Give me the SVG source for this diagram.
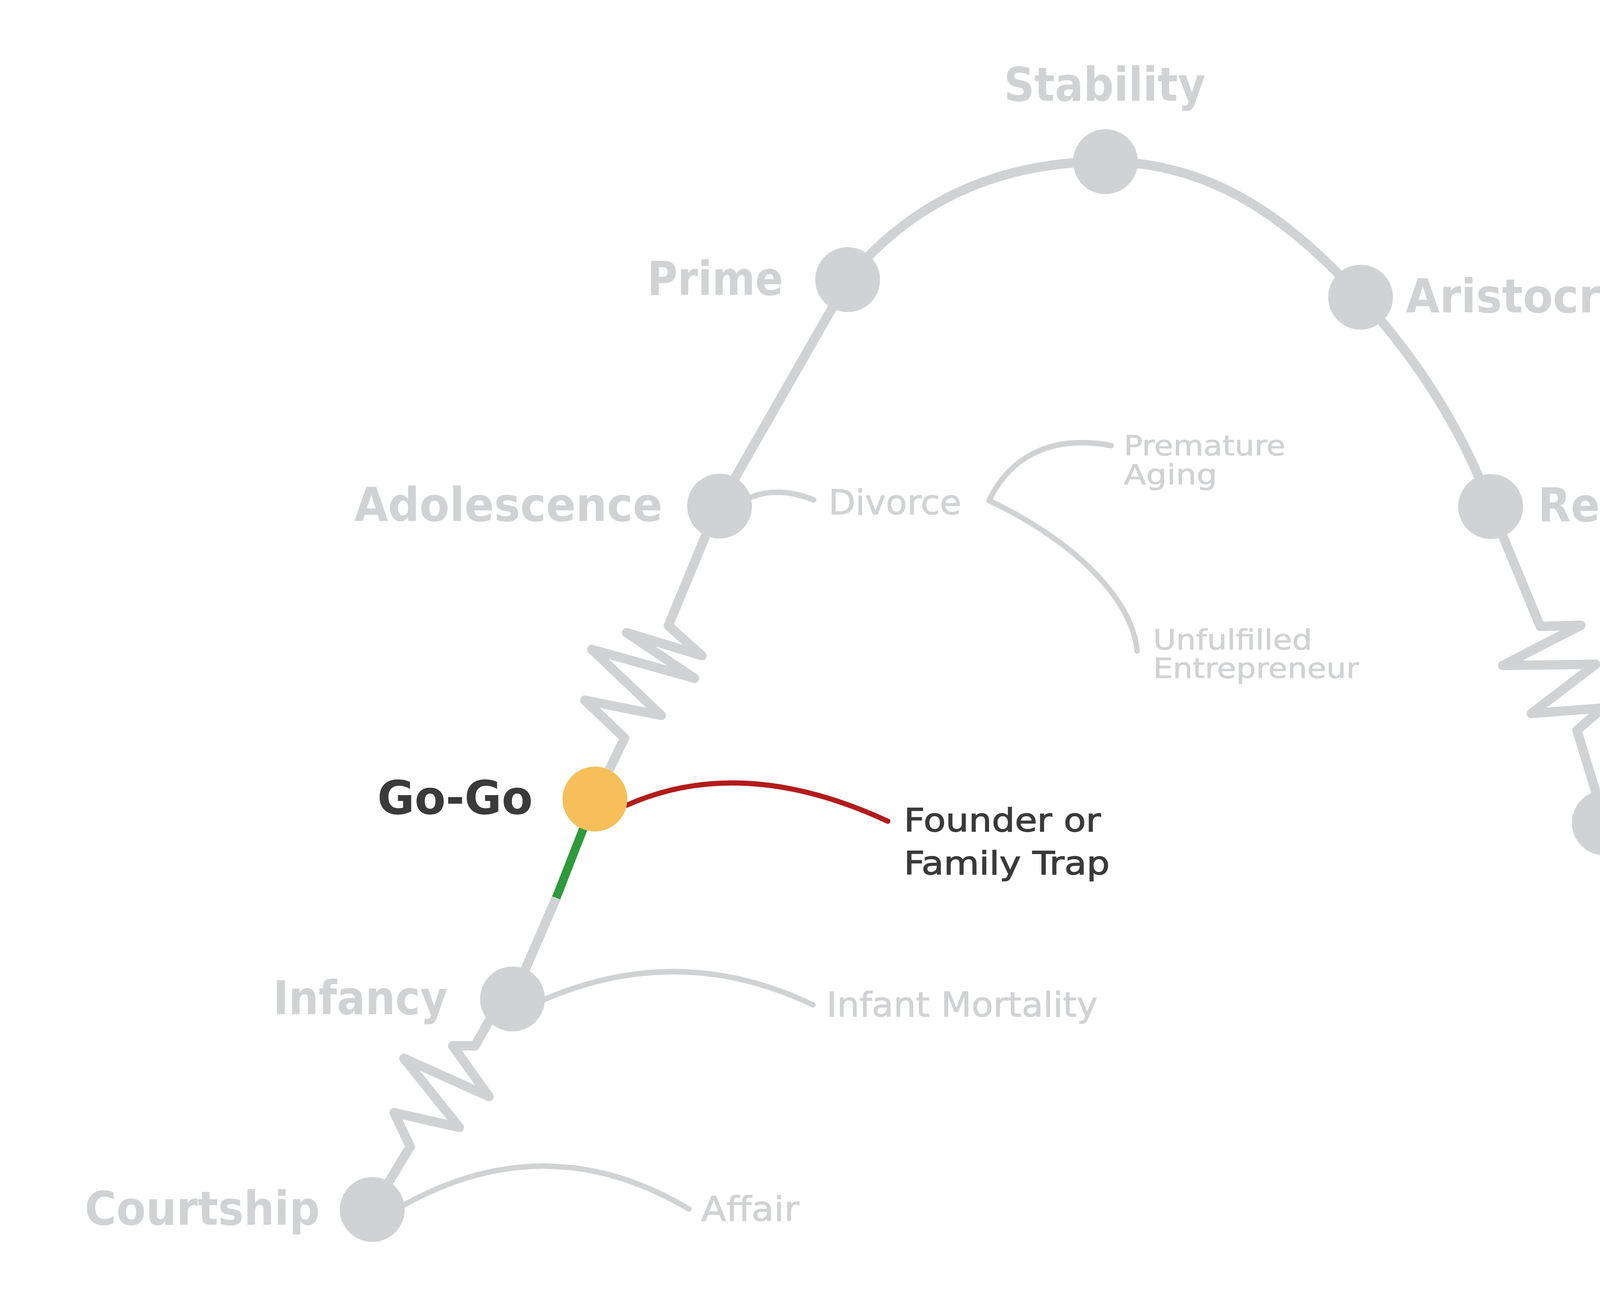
<svg xmlns="http://www.w3.org/2000/svg" width="5334" height="3334" viewBox="0 0 5334 3334">
<style>
.bg{fill:#ffffff}
.main{fill:none;stroke:#D1D2D4;stroke-width:24;stroke-linejoin:round;stroke-linecap:round}
.sub{fill:none;stroke:#D1D2D4;stroke-width:14;stroke-linecap:round;stroke-linejoin:round}
.green{fill:none;stroke:#2E9A3A;stroke-width:22;stroke-linecap:butt}
.red{fill:none;stroke:#B31B1B;stroke-width:13;stroke-linecap:round}
.node{fill:#D1D2D4}
.node-hi{fill:#F6BF5A}
.lbl{font-family:"DejaVu Sans","Liberation Sans",sans-serif;font-weight:bold;font-size:120px;fill:#D1D2D4}
.lbl-hi{font-family:"DejaVu Sans","Liberation Sans",sans-serif;font-weight:bold;font-size:120px;fill:#3A3A3A}
.sl{font-family:"DejaVu Sans","Liberation Sans",sans-serif;font-size:88px;fill:#D1D2D4;stroke:#D1D2D4;stroke-width:1.5}
.ss{font-family:"DejaVu Sans","Liberation Sans",sans-serif;font-size:72px;fill:#D1D2D4;stroke:#D1D2D4;stroke-width:1.2}
.sd{font-family:"DejaVu Sans","Liberation Sans",sans-serif;font-size:82px;fill:#3A3A3A;stroke:#3A3A3A;stroke-width:1.8}
</style>
<rect class="bg" x="0" y="0" width="5334" height="3334"/>
<g id="connectors">
  <path class="main" d="M953,3097 L1050,2936 L1009,2849 L1176,2887 L1034,2710 L1252,2808 L1159,2678 L1216,2678 L1252,2614 L1312,2558"/>
  <path class="main" d="M1312,2558 L1424,2299"/>
  <path class="green" d="M1424,2299 L1523,2046"/>
  <path class="main" d="M1523,2046 L1599,1890 L1497,1793 L1693,1832 L1515,1663 L1778,1737 L1604,1620 L1797,1679 L1711,1602 L1807,1370 L1842,1296"/>
  <path class="main" d="M1838,1300 L2172,716"/>
  <path class="main" d="M2170,716 C2330,520 2550,414 2830,414 C3100,414 3300,560 3483,761"/>
  <path class="main" d="M3483,761 Q3710,1010 3816,1297"/>
  <path class="main" d="M3816,1297 L3943,1604 L4047,1601 L3847,1704 L4085,1701 L3920,1827 L4103,1813 L4037,1870 L4085,2027 L4107,2107"/>
  <path class="main" d="M4107,2107 C4200,2450 4400,2930 4636,3092"/>
  <path class="sub" d="M1030,3088 Q1400,2880 1764,3096"/>
  <path class="sub" d="M1392,2560 Q1740,2410 2081,2573"/>
  <path class="sub" d="M1923,1273 Q1995,1245 2083,1280"/>
  <path class="sub" d="M2845,1141 C2680,1110 2580,1180 2532,1282 C2760,1390 2900,1540 2911,1667"/>
  <path class="red" d="M1604,2062 Q1900,1930 2273,2103"/>
</g>
<g id="node-courtship">
  <circle class="node" cx="953" cy="3097" r="83"/>
  <text class="lbl" x="217" y="3136" textLength="602" lengthAdjust="spacingAndGlyphs">Courtship</text>
</g>
<g id="node-affair">
  <text class="sl" x="1795" y="3126" textLength="251" lengthAdjust="spacingAndGlyphs">Affair</text>
</g>
<g id="node-infancy">
  <circle class="node" cx="1312" cy="2558" r="83"/>
  <text class="lbl" x="699" y="2597" textLength="447" lengthAdjust="spacingAndGlyphs">Infancy</text>
</g>
<g id="node-infant-mortality">
  <text class="sl" x="2116" y="2603" textLength="694" lengthAdjust="spacingAndGlyphs">Infant Mortality</text>
</g>
<g id="node-gogo">
  <circle class="node-hi" cx="1523" cy="2046" r="83"/>
  <text class="lbl-hi" x="966" y="2084" textLength="398" lengthAdjust="spacingAndGlyphs">Go-Go</text>
</g>
<g id="node-founder-trap">
  <text class="sd" x="2314" y="2129" textLength="504" lengthAdjust="spacingAndGlyphs">Founder or</text>
  <text class="sd" x="2314" y="2239" textLength="527" lengthAdjust="spacingAndGlyphs">Family Trap</text>
</g>
<g id="node-adolescence">
  <circle class="node" cx="1842" cy="1296" r="83"/>
  <text class="lbl" x="907" y="1334" textLength="789" lengthAdjust="spacingAndGlyphs">Adolescence</text>
</g>
<g id="node-divorce">
  <text class="sl" x="2121" y="1317" textLength="340" lengthAdjust="spacingAndGlyphs">Divorce</text>
</g>
<g id="node-premature-aging">
  <text class="ss" x="2877" y="1166" textLength="414" lengthAdjust="spacingAndGlyphs">Premature</text>
  <text class="ss" x="2877" y="1240" textLength="239" lengthAdjust="spacingAndGlyphs">Aging</text>
</g>
<g id="node-unfulfilled">
  <text class="ss" x="2952" y="1663" textLength="407" lengthAdjust="spacingAndGlyphs">Unfulfilled</text>
  <text class="ss" x="2952" y="1736" textLength="527" lengthAdjust="spacingAndGlyphs">Entrepreneur</text>
</g>
<g id="node-prime">
  <circle class="node" cx="2170" cy="716" r="83"/>
  <text class="lbl" x="1657" y="755" textLength="348" lengthAdjust="spacingAndGlyphs">Prime</text>
</g>
<g id="node-stability">
  <circle class="node" cx="2830" cy="414" r="83"/>
  <text class="lbl" x="2570" y="258" textLength="516" lengthAdjust="spacingAndGlyphs">Stability</text>
</g>
<g id="node-aristocracy">
  <circle class="node" cx="3483" cy="761" r="83"/>
  <text class="lbl" x="3599" y="800" textLength="712" lengthAdjust="spacingAndGlyphs">Aristocracy</text>
</g>
<g id="node-recrimination">
  <circle class="node" cx="3816" cy="1297" r="83"/>
  <text class="lbl" x="3937" y="1335" textLength="861" lengthAdjust="spacingAndGlyphs">Recrimination</text>
</g>
<g id="node-bureaucracy">
  <circle class="node" cx="4107" cy="2107" r="83"/>
  <text class="lbl" x="4230" y="2147" textLength="768" lengthAdjust="spacingAndGlyphs">Bureaucracy</text>
</g>
<g id="node-death">
  <circle class="node" cx="4636" cy="3092" r="83"/>
  <text class="lbl" x="4763" y="3134" textLength="358" lengthAdjust="spacingAndGlyphs">Death</text>
</g>
</svg>
